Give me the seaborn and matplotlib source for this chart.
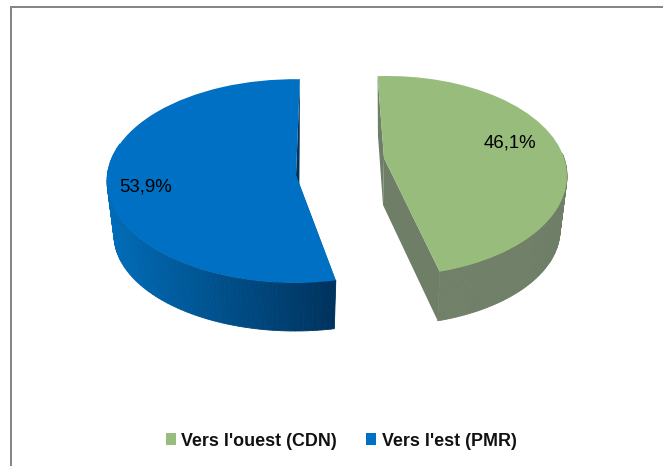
import numpy as np
import matplotlib
matplotlib.use("Agg")
import matplotlib.pyplot as plt
from matplotlib.transforms import Transform
from matplotlib.colors import to_rgb
import seaborn as sns

# data
categories = ["Vers l'ouest (CDN)", "Vers l'est (PMR)"]
shares = [46.1, 53.9]
share_labels = ["46,1%", "53,9%"]
colors = ["#97BC7C", "#0070C4"]

sns.set_theme(style="white")
plt.rcParams["font.family"] = ["Liberation Sans", "DejaVu Sans"]

W, H = 663, 466
fig = plt.figure(figsize=(W / 100, H / 100), dpi=100)
ax = fig.add_axes([0, 0, 1, 1])


class Warp(Transform):
    """Unit pie disc -> slanted ellipse, in pixel-like data coordinates."""
    input_dims = output_dims = 2

    def __init__(self, cx, cy, a, b, ax_, ay_, rot):
        super().__init__()
        self.p = (cx, cy, a, b, ax_, ay_, np.deg2rad(rot))

    def transform_non_affine(self, pts):
        cx, cy, a, b, ax_, ay_, rot = self.p
        pts = np.asarray(pts, float)
        c, s = np.cos(rot), np.sin(rot)
        x = pts[:, 0] * c + pts[:, 1] * s
        y = -pts[:, 0] * s + pts[:, 1] * c
        r = np.minimum(np.hypot(x, y), 1.0)
        return np.column_stack([
            cx + a * x + (ax_ - cx) * (1 - r),
            cy - b * y + (ay_ - cy) * (1 - r),
        ])

    def inverted(self):
        raise NotImplementedError


# ellipse geometry per slice: top face, bottom face
top_geom = [(387, 176, 180, 100, 384, 158, -3), (295, 181, 188, 101.8, 296, 175, 1.5)]
bot_geom = [(387, 230, 173, 95, 383, 205, -3), (295, 235, 181, 96, 299, 224, 1.5)]
wall_ends = [("#6F7F67", "#718169"), ("#00325C", "#006CB8")]

wedges, _ = ax.pie(shares, colors=colors, startangle=90, counterclock=False, frame=False)

for i, w in enumerate(wedges):
    w.set_linewidth(0)
    w.set_zorder(5)
    w.set_transform(Warp(*top_geom[i]) + ax.transData)
    top = Warp(*top_geom[i])
    bot = Warp(*bot_geom[i])
    t1, t2 = w.theta1, w.theta2
    # the outer wall: only the front of the rim is visible
    if i == 0:
        lo, hi = t1, 10
    else:
        lo, hi = max(t1, -200), t2
    ts = np.deg2rad(np.linspace(lo, hi, 90))
    uv = np.column_stack([np.cos(ts), np.sin(ts)])
    pt, pb = top.transform(uv), bot.transform(uv)
    xs = pb[:, 0]
    c0, c1 = np.array(to_rgb(wall_ends[i][0])), np.array(to_rgb(wall_ends[i][1]))
    for j in range(len(ts) - 1):
        f = (xs[j] - xs.min()) / (xs.max() - xs.min())
        col = c0 * f + c1 * (1 - f)
        poly = np.vstack([pt[j], pt[j + 1], pb[j + 1], pb[j]])
        ax.fill(poly[:, 0], poly[:, 1], color=col, lw=0.6, zorder=2)
    # the cut walls, from the centre to both ends of the slice
    for th in (t1, t2):
        u = np.array([[np.cos(np.deg2rad(th)), np.sin(np.deg2rad(th))], [0, 0]])
        a, b = top.transform(u), bot.transform(u)
        poly = np.vstack([a[0], a[1], b[1], b[0]])
        cut = "#6F7F67" if i == 0 else "#005FA6"
        if i == 1 and th == t1:
            cut = "#00325C"
        ax.fill(poly[:, 0], poly[:, 1], color=cut, lw=0, zorder=1)

for w, lab, pos in zip(wedges, share_labels, [(510, 143), (146, 187)]):
    ax.text(*pos, lab, ha="center", va="center", fontsize=13.4, color="black", zorder=6)

ax.set_aspect("auto")
ax.set_xlim(0, W)
ax.set_ylim(H, 0)
ax.set_axis_off()

# chart frame: only top and left show in the crop
ax.plot([11, 11, W], [H, 7, 7], color="#868686", lw=1.45, zorder=0, solid_joinstyle="miter")

leg = ax.legend(wedges, categories, loc="center", bbox_to_anchor=(341 / W, 1 - 441 / H),
                bbox_transform=ax.transAxes, ncol=2, frameon=False,
                prop={"family": "Liberation Sans", "weight": "bold", "size": 12.9},
                handlelength=0.58, handleheight=0.62, handletextpad=0.3, columnspacing=1.6)
for t in leg.get_texts():
    t.set_color("#111111")

fig.savefig("out.png", dpi=100, facecolor="white")
